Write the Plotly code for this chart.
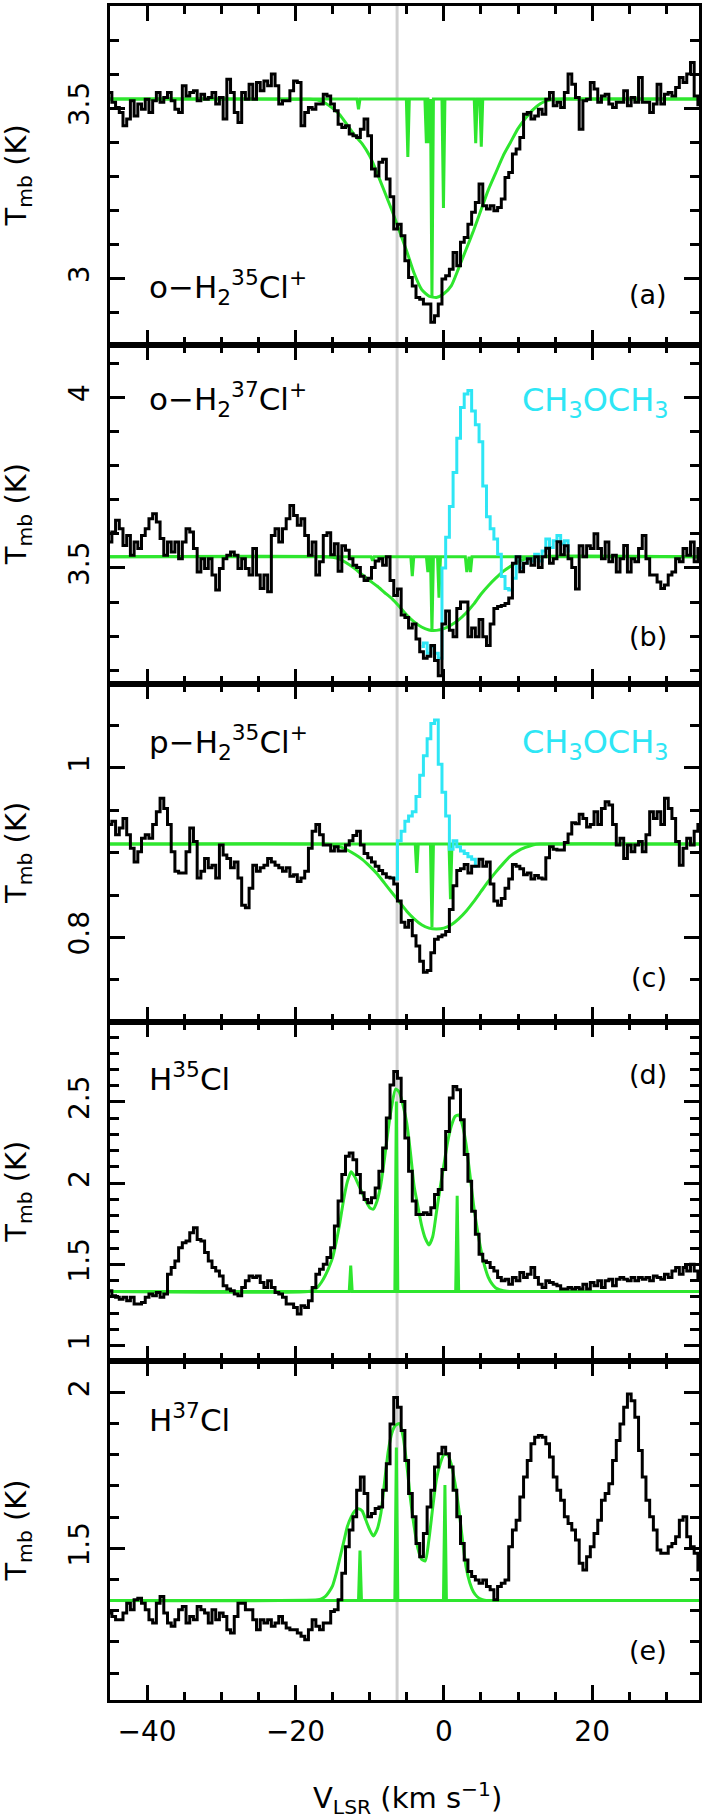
import plotly.graph_objects as go
from plotly.subplots import make_subplots

# ---------------- data ----------------
V_START = -45.0      # first channel (km/s)
V_STEP = 0.5         # channel width (km/s)
X_RANGE = [-45.0, 34.4]
V_MARK = -6.3        # grey vertical marker

# (a) o-H2 35Cl+  observed spectrum (K)
spec_a = [3.546, 3.517, 3.502, 3.487, 3.448, 3.468, 3.522, 3.477, 3.512, 3.497,
          3.526, 3.487, 3.522, 3.546, 3.517, 3.531, 3.546, 3.522, 3.497, 3.487,
          3.566, 3.536, 3.546, 3.551, 3.522, 3.541, 3.526, 3.531, 3.546, 3.512,
          3.531, 3.468, 3.585, 3.546, 3.487, 3.458, 3.546, 3.526, 3.570, 3.526,
          3.575, 3.551, 3.580, 3.566, 3.600, 3.566, 3.512, 3.522, 3.522, 3.551,
          3.580, 3.575, 3.448, 3.487, 3.502, 3.497, 3.512, 3.512, 3.541, 3.536,
          3.512, 3.492, 3.453, 3.443, 3.448, 3.424, 3.419, 3.414, 3.438, 3.468,
          3.419, 3.321, 3.301, 3.341, 3.350, 3.292,
          3.240, 3.145, 3.159, 3.125, 3.052, 3.003, 2.978, 2.944, 2.939, 2.925,
          2.925, 2.871, 2.890, 2.925, 2.998, 3.008, 3.027, 3.076, 3.037, 3.106,
          3.120, 3.159, 3.194, 3.223, 3.277, 3.213, 3.204, 3.213, 3.199, 3.208,
          3.233, 3.296, 3.311, 3.365, 3.380, 3.414, 3.482, 3.487, 3.468, 3.477,
          3.497, 3.482, 3.526, 3.546, 3.507, 3.517, 3.502, 3.546, 3.600, 3.570,
          3.531, 3.438, 3.522, 3.526, 3.575, 3.556, 3.517, 3.536, 3.541, 3.512,
          3.502, 3.517, 3.517, 3.551, 3.507, 3.531, 3.517, 3.590, 3.517, 3.517,
          3.487, 3.512, 3.570, 3.512, 3.541, 3.546, 3.536, 3.561, 3.590, 3.575,
          3.600, 3.634, 3.536, 3.510]

# (b) o-H2 37Cl+
spec_b = [3.576, 3.605, 3.640, 3.615, 3.566, 3.595, 3.537, 3.576, 3.557, 3.595,
          3.615, 3.644, 3.659, 3.635, 3.586, 3.537, 3.576, 3.547, 3.576, 3.527,
          3.576, 3.615, 3.605, 3.557, 3.488, 3.527, 3.498, 3.527, 3.479, 3.435,
          3.498, 3.527, 3.537, 3.547, 3.537, 3.498, 3.527, 3.498, 3.479, 3.557,
          3.479, 3.440, 3.479, 3.430, 3.595, 3.615, 3.576, 3.615, 3.644, 3.683,
          3.654, 3.625, 3.644, 3.595, 3.537, 3.576, 3.479, 3.518, 3.595,
          3.603, 3.539, 3.571, 3.490, 3.565, 3.552, 3.527, 3.508, 3.501, 3.476,
          3.463, 3.470, 3.501, 3.520, 3.527, 3.508, 3.533, 3.463, 3.419, 3.438,
          3.362, 3.355, 3.324, 3.336, 3.292, 3.254, 3.235, 3.241, 3.273, 3.229,
          3.184, 3.336, 3.374, 3.317, 3.298, 3.381, 3.400, 3.400, 3.298, 3.324,
          3.298, 3.349, 3.298, 3.273, 3.336, 3.381, 3.387, 3.390, 3.396, 3.412,
          3.514, 3.533, 3.489, 3.514, 3.527, 3.508, 3.533, 3.501, 3.533, 3.558,
          3.514, 3.527, 3.577, 3.539, 3.565, 3.527, 3.501, 3.438, 3.565, 3.533, 3.565,
          3.557, 3.600, 3.557, 3.527, 3.576, 3.518, 3.537, 3.488, 3.527, 3.566,
          3.488, 3.527, 3.518, 3.557, 3.595, 3.527, 3.479, 3.479, 3.459, 3.440,
          3.450, 3.479, 3.488, 3.527, 3.518, 3.557, 3.537, 3.576, 3.518, 3.557]

# (c) p-H2 35Cl+
spec_c = [0.933, 0.937, 0.921, 0.929, 0.940, 0.921, 0.905, 0.889, 0.901, 0.917,
          0.921, 0.917, 0.933, 0.948, 0.964, 0.952, 0.933, 0.901, 0.878, 0.876,
          0.876, 0.901, 0.929, 0.913, 0.870, 0.878, 0.893, 0.882, 0.885, 0.870,
          0.909, 0.897, 0.893, 0.882, 0.889, 0.870, 0.838, 0.835, 0.858, 0.885,
          0.878, 0.882, 0.885, 0.893, 0.889, 0.885, 0.882, 0.878, 0.882, 0.872,
          0.874, 0.866, 0.870, 0.878, 0.905, 0.925, 0.933, 0.921, 0.909,
          0.909, 0.902, 0.907, 0.902, 0.902, 0.909, 0.914, 0.920, 0.925, 0.909,
          0.899, 0.894, 0.889, 0.884, 0.879, 0.875, 0.871, 0.870, 0.863, 0.843,
          0.818, 0.812, 0.820, 0.802, 0.790, 0.772, 0.759, 0.761, 0.782, 0.798,
          0.801, 0.803, 0.807, 0.833, 0.861, 0.879, 0.881, 0.886, 0.876, 0.884,
          0.884, 0.892, 0.884, 0.889, 0.863, 0.843, 0.838, 0.846, 0.858, 0.869,
          0.886, 0.884, 0.881, 0.874, 0.876, 0.869, 0.873, 0.870, 0.869, 0.894,
          0.907, 0.904, 0.903, 0.903, 0.912, 0.922, 0.935, 0.934, 0.945, 0.940, 0.930,
          0.933, 0.948, 0.933, 0.952, 0.960, 0.956, 0.933, 0.909, 0.917, 0.893,
          0.909, 0.901, 0.909, 0.913, 0.901, 0.921, 0.948, 0.940, 0.948, 0.933,
          0.964, 0.952, 0.940, 0.913, 0.885, 0.905, 0.917, 0.909, 0.925, 0.933]

# (d) H35Cl
spec_d = [1.337, 1.307, 1.297, 1.286, 1.297, 1.276, 1.297, 1.256, 1.256, 1.266,
          1.297, 1.317, 1.307, 1.327, 1.297, 1.317, 1.440, 1.481, 1.521, 1.603,
          1.634, 1.644, 1.695, 1.726, 1.654, 1.644, 1.573, 1.521, 1.481, 1.460,
          1.429, 1.368, 1.348, 1.337, 1.317, 1.307, 1.358, 1.399, 1.429, 1.419,
          1.429, 1.389, 1.358, 1.399, 1.358, 1.327, 1.317, 1.297, 1.256, 1.256,
          1.235, 1.194, 1.245, 1.235, 1.276, 1.358, 1.440, 1.470, 1.501, 1.542,
          1.603, 1.736, 1.890, 2.053, 2.166, 2.186, 2.145, 2.053, 1.941, 1.900,
          1.879, 1.910, 1.971, 2.074, 2.217, 2.401, 2.605, 2.687, 2.646, 2.503,
          2.278, 2.074, 1.890, 1.808, 1.808, 1.818, 1.808, 1.849, 1.930, 1.961,
          2.084, 2.319, 2.524, 2.595, 2.575, 2.391, 2.176, 2.012, 1.828, 1.685,
          1.562, 1.521, 1.511, 1.481, 1.460, 1.419, 1.399, 1.409, 1.378, 1.419,
          1.399, 1.450, 1.419, 1.440, 1.481, 1.419, 1.378, 1.358, 1.399, 1.389,
          1.378, 1.368, 1.348, 1.348, 1.358, 1.348, 1.358, 1.348, 1.378, 1.348,
          1.389, 1.368, 1.399, 1.358, 1.399, 1.409, 1.368, 1.409, 1.419, 1.409,
          1.399, 1.419, 1.399, 1.419, 1.409, 1.419, 1.399, 1.429, 1.419, 1.409,
          1.440, 1.419, 1.460, 1.481, 1.440, 1.481, 1.460, 1.501, 1.460, 1.419]

# (e) H37Cl
spec_e = [1.293, 1.282, 1.271, 1.271, 1.293, 1.324, 1.303, 1.335, 1.340, 1.324,
          1.303, 1.271, 1.261, 1.324, 1.346, 1.293, 1.261, 1.250, 1.271, 1.303,
          1.314, 1.261, 1.282, 1.271, 1.314, 1.303, 1.293, 1.261, 1.303, 1.271,
          1.293, 1.282, 1.239, 1.229, 1.282, 1.324, 1.324, 1.303, 1.303, 1.271,
          1.239, 1.271, 1.261, 1.271, 1.250, 1.261, 1.282, 1.261, 1.245, 1.239,
          1.239, 1.229, 1.218, 1.207, 1.239, 1.271, 1.250, 1.239, 1.261, 1.261,
          1.298, 1.303, 1.335, 1.420, 1.505, 1.559, 1.601, 1.686, 1.729, 1.676,
          1.601, 1.612, 1.628, 1.633, 1.686, 1.771, 1.899, 1.984, 1.952, 1.878,
          1.782, 1.676, 1.601, 1.516, 1.473, 1.548, 1.633, 1.686, 1.761, 1.803,
          1.824, 1.803, 1.761, 1.686, 1.601, 1.516, 1.463, 1.426, 1.410, 1.399,
          1.388, 1.399, 1.378, 1.367, 1.335, 1.378, 1.388, 1.399, 1.505, 1.559,
          1.590, 1.665, 1.729, 1.782, 1.835, 1.856, 1.862, 1.856, 1.835, 1.793,
          1.729, 1.686, 1.654, 1.601, 1.580, 1.559, 1.527, 1.452, 1.431, 1.473,
          1.505, 1.548, 1.590, 1.654, 1.676, 1.707, 1.782, 1.846, 1.899, 1.952,
          1.995, 1.973, 1.920, 1.814, 1.729, 1.654, 1.601, 1.559, 1.495, 1.484,
          1.484, 1.505, 1.516, 1.537, 1.590, 1.601, 1.537, 1.505, 1.484, 1.431]

# CH3OCH3-contaminated spectra (cyan)
cyan_b_start = -3.0
cyan_b = [3.270, 3.280, 3.250, 3.270, 3.250, 3.235, 3.500, 3.590, 3.680, 3.780,
          3.880, 3.970, 4.010, 4.020, 3.960, 3.920, 3.870, 3.740, 3.650, 3.615,
          3.585, 3.540, 3.475, 3.440, 3.435, 3.470, 3.533, 3.500, 3.514, 3.527,
          3.520, 3.540, 3.520, 3.550, 3.585, 3.560, 3.580, 3.595, 3.570, 3.580,
          3.550]
cyan_c_start = -7.0
cyan_c = [0.870, 0.869, 0.914, 0.925, 0.937, 0.943, 0.948, 0.966, 0.991, 1.014,
          1.034, 1.052, 1.056, 1.004, 0.971, 0.943, 0.904, 0.914, 0.907, 0.902,
          0.899, 0.895, 0.892, 0.884]

# broad model fits (green)
fit_a_v = [-45, -18, -17, -16, -15, -14, -13, -12, -11, -10, -9, -8, -7, -6, -5, -4, -3, -2,
           -1, 0, 1, 2, 3, 4, 5, 6, 7, 8, 9, 10, 11, 12, 13, 14, 15, 16, 34.5]
fit_a_t = [3.527, 3.526, 3.524, 3.515, 3.500, 3.480, 3.450, 3.420, 3.395, 3.360, 3.310,
           3.255, 3.200, 3.140, 3.080, 3.015, 2.968, 2.948, 2.944, 2.955, 2.978, 3.030,
           3.085, 3.140, 3.200, 3.260, 3.310, 3.360, 3.400, 3.440, 3.470, 3.495, 3.513,
           3.522, 3.526, 3.527, 3.527]
fit_b_v = [-45, -16, -15, -14, -13, -12, -11, -10, -9, -8, -7, -6, -5, -4, -3, -2, -1, 0,
           1, 2, 3, 4, 5, 6, 7, 8, 9, 10, 11, 12, 34.5]
fit_b_t = [3.533, 3.533, 3.531, 3.525, 3.513, 3.498, 3.480, 3.463, 3.447, 3.428, 3.410,
           3.387, 3.362, 3.342, 3.327, 3.318, 3.317, 3.322, 3.333, 3.348, 3.368, 3.393,
           3.423, 3.448, 3.470, 3.490, 3.505, 3.518, 3.527, 3.533, 3.533]
fit_c_v = [-45, -16, -15, -14, -13, -12, -11, -10, -9, -8, -7, -6, -5, -4, -3, -2, -1, 0,
           1, 2, 3, 4, 5, 6, 7, 8, 9, 10, 11, 12, 13, 34.5]
fit_c_t = [0.910, 0.910, 0.909, 0.907, 0.903, 0.898, 0.892, 0.884, 0.875, 0.864, 0.853,
           0.842, 0.831, 0.822, 0.815, 0.811, 0.810, 0.811, 0.815, 0.822, 0.831, 0.842,
           0.854, 0.866, 0.877, 0.887, 0.896, 0.902, 0.906, 0.909, 0.910, 0.910]
fit_d_v = [-45, -18, -17.5, -17, -16.5, -16, -15.5, -15, -14.5, -14, -13.5, -13, -12.5,
           -12, -11.5, -11, -10.5, -10, -9.5, -9, -8.5, -8, -7.5, -7, -6.5, -6, -5.5, -5,
           -4.5, -4, -3.5, -3, -2.5, -2, -1.5, -1, -0.5, 0, 0.5, 1, 1.5, 2, 2.5, 3, 3.5,
           4, 4.5, 5, 5.5, 6, 6.5, 7, 7.5, 8, 8.5, 9, 34.5]
fit_d_t = [1.333, 1.335, 1.345, 1.360, 1.390, 1.430, 1.480, 1.540, 1.640, 1.760, 1.900,
           2.010, 2.070, 2.040, 1.990, 1.940, 1.890, 1.850, 1.840, 1.890, 1.990, 2.150,
           2.330, 2.480, 2.580, 2.560, 2.480, 2.370, 2.190, 1.980, 1.860, 1.740, 1.660,
           1.620, 1.670, 1.820, 1.970, 2.110, 2.250, 2.350, 2.410, 2.420, 2.360, 2.240,
           2.060, 1.870, 1.720, 1.590, 1.490, 1.420, 1.380, 1.355, 1.345, 1.338, 1.334,
           1.333, 1.333]
fit_e_v = [-45, -17, -16.5, -16, -15.5, -15, -14.5, -14, -13.5, -13, -12.5, -12, -11.5,
           -11, -10.5, -10, -9.5, -9, -8.5, -8, -7.5, -7, -6.5, -6, -5.5, -5, -4.5, -4,
           -3.5, -3, -2.5, -2, -1.5, -1, -0.5, 0, 0.5, 1, 1.5, 2, 2.5, 3, 3.5, 4, 4.5, 5,
           5.5, 6, 34.5]
fit_e_t = [1.333, 1.335, 1.338, 1.345, 1.360, 1.380, 1.420, 1.470, 1.520, 1.570, 1.600,
           1.620, 1.627, 1.620, 1.590, 1.560, 1.540, 1.560, 1.610, 1.710, 1.810, 1.870,
           1.895, 1.900, 1.860, 1.770, 1.660, 1.570, 1.500, 1.465, 1.460, 1.530, 1.630,
           1.720, 1.770, 1.800, 1.800, 1.770, 1.710, 1.630, 1.530, 1.440, 1.390, 1.360,
           1.345, 1.337, 1.334, 1.333, 1.333]

# narrow hyperfine components (green): baseline, velocities, signed amplitudes
hfs_base = [3.527, 3.533, 0.910, 1.333, 1.333]
hfs_v = [[-11.5, -4.85, -2.35, -2.0, -1.6, -0.05, 4.3, 5.05],
         [-9.6, -4.25, -2.15, -1.9, -1.6, -0.65, 3.1, 3.6],
         [-3.65, -1.6, 0.9],
         [-12.55, -6.4, 1.8],
         [-11.3, -6.4, 0.15]]
hfs_amp = [[-0.03, -0.17, -0.13, -0.13, -0.583, -0.32, -0.13, -0.14],
           [-0.012, -0.057, -0.045, -0.045, -0.216, -0.12, -0.045, -0.045],
           [-0.034, -0.098, -0.065],
           [0.16, 1.17, 0.59],
           [0.16, 0.49, 0.37]]

y_ranges = [[2.805, 3.80], [3.161, 4.154], [0.70, 1.099], [0.904, 2.99], [1.014, 2.10]]
y_dtick = [0.5, 0.5, 0.2, 0.5, 0.5]
y_minor = [0.1, 0.1, 0.05, 0.1, 0.1]

species = ["o\u2212H<sub>2</sub><sup>35</sup>Cl<sup>+</sup>",
           "o\u2212H<sub>2</sub><sup>37</sup>Cl<sup>+</sup>",
           "p\u2212H<sub>2</sub><sup>35</sup>Cl<sup>+</sup>",
           "H<sup>35</sup>Cl", "H<sup>37</sup>Cl"]
panel_tags = ["(a)", "(b)", "(c)", "(d)", "(e)"]
contaminant = "CH<sub>3</sub>OCH<sub>3</sub>"

# ---------------- styles ----------------
BLACK = "#000000"
GREEN = "#2ee62e"
CYAN = "#2ee6f5"
GREY = "#cfcfcf"
FONT = "DejaVu Sans"
LW = 3

W, H = 706, 1820
ML, MR, MT, MB = 110, 7, 3, 120
PW, PH = W - ML - MR, H - MT - MB


def chan(n, start=V_START):
    return [start + i * V_STEP for i in range(n)]


def hfs_trace(base, vs, amps, half=0.2):
    xs, ys = [V_START], [base]
    for v, a in sorted(zip(vs, amps)):
        xs += [v - half, v, v + half]
        ys += [base, base + a, base]
    xs.append(V_START + 159 * V_STEP)
    ys.append(base)
    return xs, ys


fig = make_subplots(rows=5, cols=1, shared_xaxes=True, vertical_spacing=0)

spectra = [spec_a, spec_b, spec_c, spec_d, spec_e]
fits = [(fit_a_v, fit_a_t), (fit_b_v, fit_b_t), (fit_c_v, fit_c_t),
        (fit_d_v, fit_d_t), (fit_e_v, fit_e_t)]
cyans = {1: (cyan_b_start, cyan_b), 2: (cyan_c_start, cyan_c)}

for i in range(5):
    r = i + 1
    fv, ft = fits[i]
    fig.add_trace(go.Scatter(x=fv, y=ft, mode="lines",
                             line=dict(color=GREEN, width=LW, shape="spline", smoothing=0.6),
                             hoverinfo="skip"), row=r, col=1)
    hx, hy = hfs_trace(hfs_base[i], hfs_v[i], hfs_amp[i])
    fig.add_trace(go.Scatter(x=hx, y=hy, mode="lines",
                             line=dict(color=GREEN, width=LW), hoverinfo="skip"),
                  row=r, col=1)
    if i in cyans:
        st, cy = cyans[i]
        fig.add_trace(go.Scatter(x=chan(len(cy), st), y=cy, mode="lines",
                                 line=dict(color=CYAN, width=LW, shape="hvh"),
                                 hoverinfo="skip"), row=r, col=1)
    sp = spectra[i]
    fig.add_trace(go.Scatter(x=chan(len(sp)), y=sp, mode="lines",
                             line=dict(color=BLACK, width=LW, shape="hvh"),
                             hoverinfo="skip"), row=r, col=1)

axis_common = dict(showline=True, linewidth=3, linecolor="black", mirror="ticks",
                   ticks="inside", tickwidth=2.5, tickcolor="black",
                   showgrid=False, zeroline=False,
                   tickfont=dict(family=FONT, size=28, color="black"))

for i in range(5):
    r = i + 1
    fig.update_xaxes(range=X_RANGE, dtick=20, tick0=0, ticklen=15,
                     minor=dict(dtick=5, tick0=0, ticklen=8, ticks="inside",
                                tickwidth=2.5, tickcolor="black", showgrid=False),
                     showticklabels=(r == 5), ticklabelstandoff=4,
                     row=r, col=1, **axis_common)
    fig.update_yaxes(range=y_ranges[i], dtick=y_dtick[i], tick0=0, ticklen=15,
                     minor=dict(dtick=y_minor[i], tick0=0, ticklen=9, ticks="inside",
                                tickwidth=2.5, tickcolor="black", showgrid=False),
                     tickangle=-90, ticklabelstandoff=7,
                     row=r, col=1, **axis_common)


def px_x(x):
    return (x - ML) / PW


def px_y(y):
    return (H - MB - y) / PH


annos = []
label_y = [285, 397, 741, 1076, 1418]
tag_y = [292, 635, 976, 1073, 1650]
panel_mid = [MT + PH / 10 * (2 * k + 1) for k in range(5)]
for i in range(5):
    annos.append(dict(text=species[i], x=px_x(147), y=px_y(label_y[i]), xref="paper",
                      yref="paper", xanchor="left", yanchor="middle", showarrow=False,
                      font=dict(family=FONT, size=31, color="black")))
    annos.append(dict(text=panel_tags[i], x=px_x(669), y=px_y(tag_y[i]), xref="paper",
                      yref="paper", xanchor="right", yanchor="middle", showarrow=False,
                      font=dict(family=FONT, size=27, color="black")))
    annos.append(dict(text="T<sub>mb</sub> (K)", x=px_x(18), y=px_y(panel_mid[i]),
                      xref="paper", yref="paper", xanchor="center", yanchor="middle",
                      textangle=-90, showarrow=False,
                      font=dict(family=FONT, size=29, color="black")))
for i, yy in ((1, 400), (2, 742)):
    annos.append(dict(text=contaminant, x=px_x(671), y=px_y(yy), xref="paper", yref="paper",
                      xanchor="right", yanchor="middle", showarrow=False,
                      font=dict(family=FONT, size=32, color=CYAN)))
annos.append(dict(text="V<sub>LSR</sub> (km s<sup>\u22121</sup>)", x=px_x(407), y=px_y(1798),
                  xref="paper", yref="paper", xanchor="center", yanchor="middle",
                  showarrow=False, font=dict(family=FONT, size=29, color="black")))

fig.update_layout(
    width=W, height=H,
    margin=dict(l=ML, r=MR, t=MT, b=MB),
    paper_bgcolor="white", plot_bgcolor="white",
    showlegend=False,
    annotations=annos,
    shapes=[dict(type="line", xref="x", yref="paper", x0=V_MARK, x1=V_MARK, y0=0, y1=1,
                 line=dict(color=GREY, width=3), layer="below")],
)

fig.write_html("out.html", config={"displayModeBar": False},
               post_script="document.body.style.margin='0px';document.body.style.overflow='hidden';")
